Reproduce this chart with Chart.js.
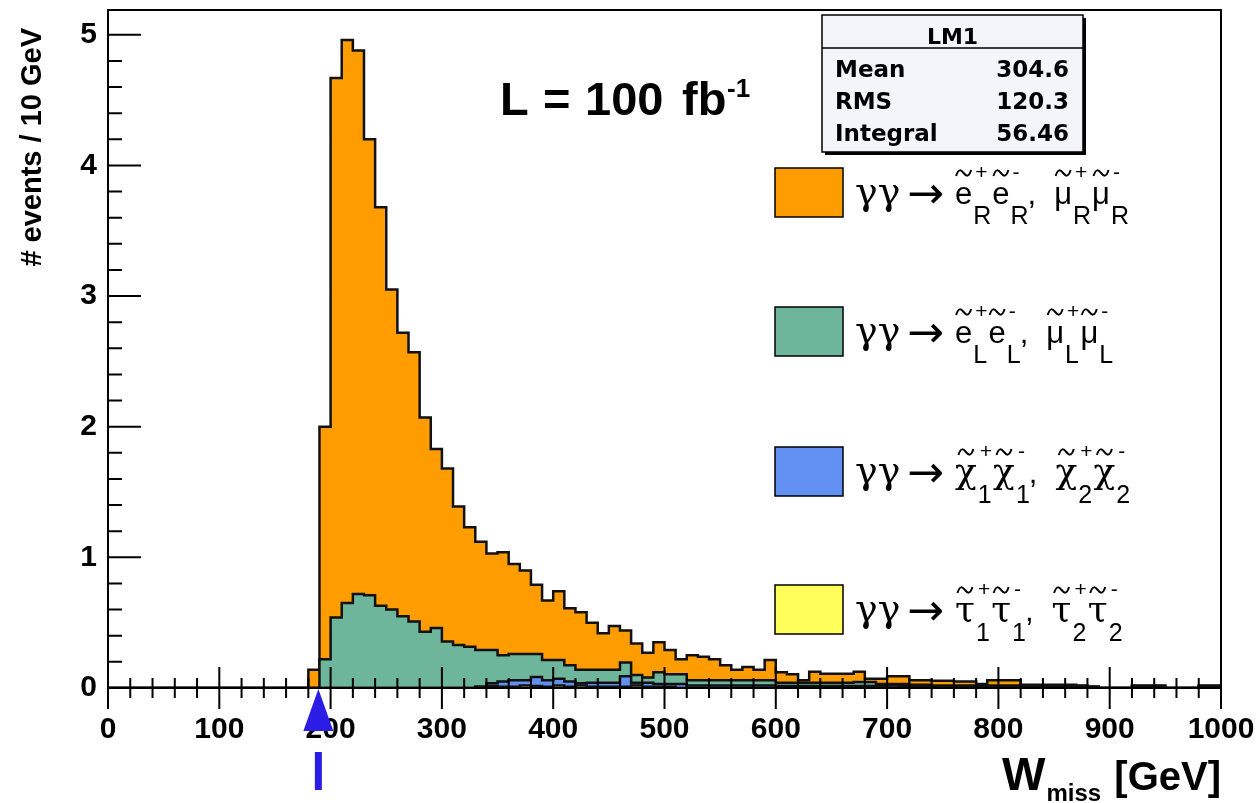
<!DOCTYPE html>
<html>
<head>
<meta charset="utf-8">
<script src="https://cdn.jsdelivr.net/npm/chart.js@4.4.1/dist/chart.umd.min.js"></script>
<style>
html, body { margin: 0; padding: 0; background: #fff; }
canvas { display: block; }
</style>
</head>
<body>
<canvas id="wmiss-chart" width="1260" height="803"></canvas>
<script>
// Binning: 10 GeV bins, values listed from the 180 GeV bin up to the 990 GeV bin
const xMin = 0;
const xMax = 1000;
const binStart = 180;
const binWidth = 10;
const yMax = 5.19;
const xMajorStep = 100;
const xMinorStep = 20;
const yMinorStep = 0.2;
const thresholdX = 189;   // blue arrow under the axis

// gg -> ~e_R ~e_R, ~mu_R ~mu_R (orange, top of stack)
const sleptonR = [
    0.14, 1.78, 4.13, 4.31, 4.16, 3.49, 3.05, 2.45, 2.17, 2.06,
    1.64, 1.37, 1.325, 1.06, 0.915, 0.83, 0.74, 0.79, 0.69, 0.64,
    0.53, 0.455, 0.525, 0.435, 0.44, 0.36, 0.28, 0.335, 0.245, 0.24,
    0.19, 0.23, 0.185, 0.115, 0.19, 0.18, 0.16, 0.115, 0.08, 0.10,
    0.08, 0.155, 0.08, 0.065, 0.02, 0.085, 0.07, 0.07, 0.07, 0.08,
    0.025, 0.04, 0.06, 0.06, 0.035, 0.035, 0.035, 0.035, 0.03, 0.03,
    0.01, 0.04, 0.04, 0.04, 0.01, 0.01, 0.01, 0.01, 0.01, 0.005,
    0, 0, 0, 0, 0.005, 0.005, 0.005, 0, 0, 0,
    0.005, 0.005
];
// gg -> ~e_L ~e_L, ~mu_L ~mu_L (green)
const sleptonL = [
    0, 0.22, 0.54, 0.65, 0.72, 0.71, 0.63, 0.60, 0.55, 0.51,
    0.43, 0.46, 0.355, 0.33, 0.315, 0.28, 0.254, 0.20, 0.20, 0.20,
    0.175, 0.155, 0.145, 0.125, 0.104, 0.10, 0.10, 0.10, 0.105, 0.06,
    0.04, 0.09, 0.075, 0.075, 0.04, 0.04, 0.04, 0.04, 0.04, 0.04,
    0.04, 0.04, 0.025, 0.025, 0.025, 0.025, 0.025, 0.025, 0.025, 0.03,
    0.03, 0.015, 0.01, 0.015, 0.015, 0.015, 0.01, 0.01, 0.01, 0.01,
    0.01, 0.01, 0.01, 0.01, 0.005, 0.005, 0.005, 0.005, 0.005, 0.005,
    0, 0, 0, 0, 0.005, 0.005, 0.005, 0, 0, 0,
    0.005, 0.005
];
// gg -> chargino pairs (blue)
const charginos = [
    0, 0, 0, 0, 0, 0, 0, 0, 0, 0,
    0, 0, 0, 0, 0, 0, 0.021, 0.04, 0.05, 0.04,
    0.07, 0.05, 0.05, 0.04, 0.016, 0.03, 0.03, 0.03, 0.08, 0.02,
    0.03, 0.02, 0.02, 0.03, 0.02, 0.02, 0.02, 0.02, 0.02, 0.02,
    0.02, 0.02, 0.015, 0.015, 0.015, 0.015, 0.015, 0.015, 0.015, 0.015,
    0.015, 0.015, 0.02, 0.015, 0.01, 0.01, 0.01, 0.01, 0.01, 0.01,
    0.01, 0.01, 0.01, 0.01, 0.01, 0.01, 0.01, 0.01, 0.01, 0.01,
    0.01, 0, 0, 0, 0.01, 0.01, 0.01, 0, 0, 0,
    0.01, 0.01
];
// gg -> ~tau ~tau (yellow, bottom of stack)
const staus = [
    0, 0, 0, 0, 0, 0, 0, 0, 0, 0,
    0, 0, 0, 0, 0, 0.01, 0.015, 0.01, 0.01, 0.02,
    0.015, 0.01, 0.02, 0.01, 0.02, 0.01, 0.01, 0.01, 0.01, 0.02,
    0.01, 0.01, 0.01, 0, 0, 0, 0, 0, 0, 0,
    0, 0, 0, 0, 0, 0, 0, 0, 0, 0,
    0, 0, 0, 0, 0, 0, 0, 0, 0, 0,
    0, 0, 0, 0, 0, 0, 0, 0, 0, 0,
    0, 0, 0, 0, 0, 0, 0, 0, 0, 0,
    0, 0
];

const statsTitle = 'LM1';
const statsRows = [['Mean', '304.6'], ['RMS', '120.3'], ['Integral', '56.46']];

// legend formulas: [base, sup, sub, trailing]
const legendOrange = [['e', '+', 'R'], ['e', '-', 'R', ','], ['μ', '+', 'R'], ['μ', '-', 'R']];
const legendGreen = [['e', '+', 'L'], ['e', '-', 'L', ','], ['μ', '+', 'L'], ['μ', '-', 'L']];
const legendBlue = [['χ', '+', '1'], ['χ', '-', '1', ','], ['χ', '+', '2'], ['χ', '-', '2']];
const legendYellow = [['τ', '+', '1'], ['τ', '-', '1', ','], ['τ', '+', '2'], ['τ', '-', '2']];

const colors = {
    orange: '#ff9c00',
    green: '#6db59b',
    blue: '#6190f2',
    yellow: '#ffff5c',
    arrow: '#2b1de6'
};

function histPoints(values) {
    const pts = [{x: xMin, y: 0}];
    values.forEach((v, i) => pts.push({x: binStart + i * binWidth, y: v}));
    pts.push({x: xMax, y: 0});
    return pts;
}

function drawTilde(ctx, cx, cy, w) {
    ctx.beginPath();
    ctx.moveTo(cx - w / 2, cy + 3);
    ctx.bezierCurveTo(cx - w / 3, cy - 5, cx - w / 6, cy - 3, cx, cy);
    ctx.bezierCurveTo(cx + w / 6, cy + 3, cx + w / 3, cy + 5, cx + w / 2, cy - 3);
    ctx.stroke();
}

function drawParticles(ctx, x, base, tokens, greek) {
    ctx.textAlign = 'left';
    ctx.textBaseline = 'alphabetic';
    ctx.lineWidth = 2;
    for (const [b, sup, sub, tail] of tokens) {
        ctx.font = greek ? '36px "DejaVu Serif"' : '31px "Liberation Sans"';
        ctx.fillText(b, x, base);
        const w = ctx.measureText(b).width;
        drawTilde(ctx, x + w / 2, base - 31, 15);
        x += w + 1;
        ctx.font = '21px "Liberation Sans"';
        ctx.fillText(sup, x + 2, base - 25);
        const ws = ctx.measureText(sup).width + 2;
        ctx.font = '25px "Liberation Sans"';
        ctx.fillText(sub, x, base + 20);
        const wb = ctx.measureText(sub).width;
        x += Math.max(ws, wb) + 1;
        if (tail) {
            ctx.font = '31px "Liberation Sans"';
            ctx.fillText(tail, x - 2, base);
            x += ctx.measureText(tail).width + 16;
        }
    }
}

const rootDecor = {
    id: 'rootDecor',
    afterDraw(chart) {
        const ctx = chart.ctx;
        const area = chart.chartArea;
        const xs = chart.scales.x;
        const ys = chart.scales.y;
        ctx.save();
        ctx.strokeStyle = '#000';
        ctx.fillStyle = '#000';

        // frame
        ctx.lineWidth = 2;
        ctx.strokeRect(area.left, area.top, area.right - area.left, area.bottom - area.top);

        // x ticks cross the axis, y ticks point inward
        ctx.beginPath();
        for (let v = xMin; v <= xMax; v += xMinorStep) {
            const px = xs.getPixelForValue(v);
            const len = v % xMajorStep === 0 ? 21 : 10;
            ctx.moveTo(px, area.bottom - len);
            ctx.lineTo(px, area.bottom + len);
        }
        for (let k = 0; k * yMinorStep <= yMax + 1e-9; k++) {
            const py = ys.getPixelForValue(k * yMinorStep);
            const len = k % 5 === 0 ? 33 : 14;
            ctx.moveTo(area.left, py);
            ctx.lineTo(area.left + len, py);
        }
        ctx.stroke();

        // axis titles
        ctx.save();
        ctx.translate(33, 28);
        ctx.rotate(-Math.PI / 2);
        ctx.font = 'bold 29px "Liberation Sans"';
        ctx.textAlign = 'right';
        ctx.textBaseline = 'middle';
        ctx.fillText('# events / 10 GeV', 0, 0);
        ctx.restore();

        ctx.textBaseline = 'alphabetic';
        ctx.textAlign = 'right';
        ctx.font = 'bold 40px "Liberation Sans"';
        ctx.fillText('[GeV]', area.right, 790);
        ctx.textAlign = 'left';
        ctx.font = 'bold 46px "Liberation Sans"';
        ctx.fillText('W', 1002, 790);
        const wW = ctx.measureText('W').width;
        ctx.font = 'bold 24px "Liberation Sans"';
        ctx.fillText('miss', 1002 + wW + 1, 801);

        // luminosity label
        ctx.font = 'bold 47px "Liberation Sans"';
        ctx.fillText('L', 500, 115);
        ctx.fillText('=', 543, 115);
        ctx.fillText('100', 585, 115);
        ctx.fillText('fb', 682, 115);
        ctx.font = 'bold 26px "Liberation Sans"';
        ctx.fillText('-1', 727, 97);

        // stats box
        const sx = 822, sy = 15, sw = 261, sh = 137;
        ctx.fillRect(sx + 3, sy + 3, sw, sh);
        ctx.fillStyle = '#f4f4fb';
        ctx.fillRect(sx, sy, sw, sh);
        ctx.lineWidth = 1.5;
        ctx.strokeRect(sx, sy, sw, sh);
        ctx.beginPath();
        ctx.moveTo(sx, sy + 33);
        ctx.lineTo(sx + sw, sy + 33);
        ctx.stroke();
        ctx.fillStyle = '#000';
        ctx.font = 'bold 22px "DejaVu Sans"';
        ctx.textAlign = 'center';
        ctx.fillText(statsTitle, sx + sw / 2, sy + 29);
        ctx.font = 'bold 23px "DejaVu Sans"';
        statsRows.forEach(([label, val], i) => {
            const by = sy + 62 + i * 32;
            ctx.textAlign = 'left';
            ctx.fillText(label, sx + 13, by);
            ctx.textAlign = 'right';
            ctx.fillText(val, sx + sw - 14, by);
        });

        // legend
        const entries = [
            {color: colors.orange, tokens: legendOrange, greek: false, cy: 192},
            {color: colors.green, tokens: legendGreen, greek: false, cy: 331},
            {color: colors.blue, tokens: legendBlue, greek: true, cy: 471},
            {color: colors.yellow, tokens: legendYellow, greek: true, cy: 609}
        ];
        entries.forEach(e => {
            ctx.fillStyle = e.color;
            ctx.fillRect(775, e.cy - 24, 68, 49);
            ctx.lineWidth = 1.5;
            ctx.strokeStyle = '#000';
            ctx.strokeRect(775, e.cy - 24, 68, 49);
            ctx.fillStyle = '#000';
            const base = e.cy + 12;
            ctx.textAlign = 'left';
            ctx.font = '38px "DejaVu Serif"';
            ctx.fillText('γγ', 855, base);
            ctx.font = '44px "DejaVu Sans"';
            ctx.fillText('→', 907, e.cy + 16);
            drawParticles(ctx, 955, base, e.tokens, e.greek);
        });

        // threshold arrow
        const ax = xs.getPixelForValue(thresholdX);
        ctx.fillStyle = colors.arrow;
        ctx.beginPath();
        ctx.moveTo(ax, area.bottom + 1);
        ctx.lineTo(ax - 15, area.bottom + 43);
        ctx.lineTo(ax + 15, area.bottom + 43);
        ctx.closePath();
        ctx.fill();
        ctx.fillRect(ax - 3.5, area.bottom + 64, 7, 38);

        ctx.restore();
    }
};

function layer(label, values, color) {
    return {
        label: label,
        data: histPoints(values),
        stepped: true,
        fill: 'origin',
        backgroundColor: color,
        borderColor: '#111',
        borderWidth: 2.5,
        pointRadius: 0,
        tension: 0
    };
}

Chart.defaults.font.family = '"Liberation Sans", Arial, sans-serif';
Chart.defaults.color = '#000';

const tickFont = {family: 'Liberation Sans', weight: 'bold', size: 30};

new Chart(document.getElementById('wmiss-chart'), {
    type: 'line',
    data: {
        datasets: [
            layer('staus', staus, colors.yellow),
            layer('charginos', charginos, colors.blue),
            layer('sleptonL', sleptonL, colors.green),
            layer('sleptonR', sleptonR, colors.orange)
        ]
    },
    options: {
        responsive: false,
        animation: false,
        devicePixelRatio: 1,
        layout: {padding: {top: 10, right: 39, left: 0, bottom: 0}},
        scales: {
            x: {
                type: 'linear',
                min: xMin,
                max: xMax,
                grid: {display: false, drawTicks: false},
                border: {display: false},
                ticks: {stepSize: xMajorStep, font: tickFont, color: '#000', padding: 24, maxRotation: 0,
                        includeBounds: false, callback: v => String(v)},
                afterFit(scale) {
                    scale.height = 115;
                    scale.paddingLeft = 0;
                    scale.paddingRight = 0;
                }
            },
            y: {
                stacked: true,
                min: 0,
                max: yMax,
                grid: {display: false, drawTicks: false},
                border: {display: false},
                ticks: {stepSize: 1, font: tickFont, color: '#000', padding: 11, includeBounds: false},
                afterFit(scale) {
                    scale.width = 108;
                    scale.paddingTop = 0;
                    scale.paddingBottom = 0;
                }
            }
        },
        plugins: {
            legend: {display: false},
            tooltip: {enabled: false}
        }
    },
    plugins: [rootDecor]
});
</script>
</body>
</html>
